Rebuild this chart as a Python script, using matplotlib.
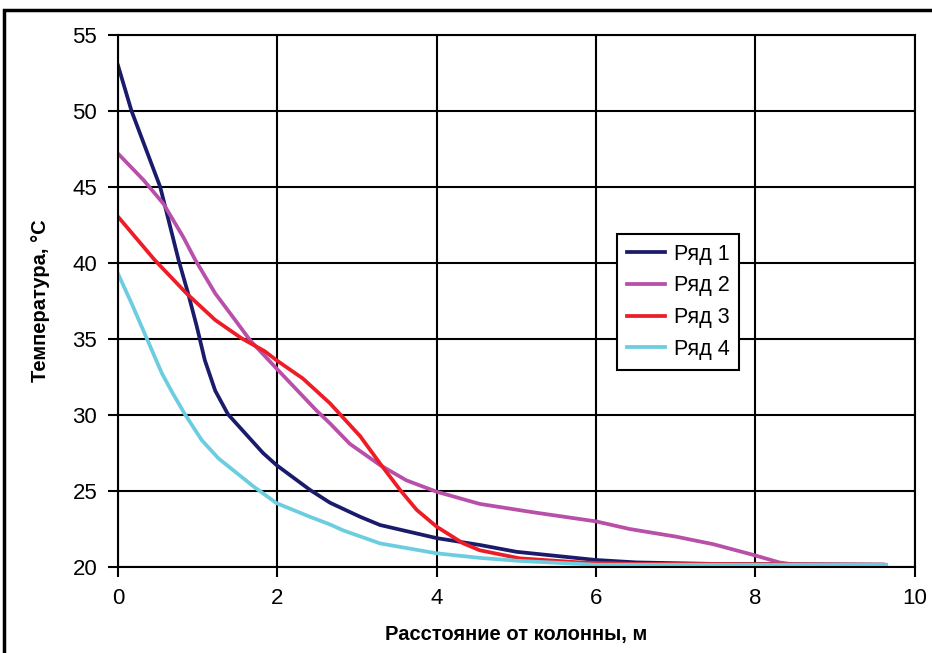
import matplotlib
matplotlib.use("Agg")
import matplotlib.pyplot as plt
from matplotlib.patches import Rectangle

plt.rcParams["font.family"] = ["Liberation Sans", "DejaVu Sans"]

# Ряд 1
x1 = [0, 0.17, 0.53, 0.76, 0.88, 0.99, 1.09, 1.22, 1.38, 1.63, 1.82, 1.99, 2.41, 2.66, 3.04, 3.29,
      4.0, 4.54, 5.0, 6.0, 6.51, 7.5, 9.6]
y1 = [53.0, 50.0, 45.0, 40.2, 38.0, 35.8, 33.6, 31.6, 30.05, 28.6, 27.5, 26.7, 25.07, 24.23, 23.3, 22.76,
      21.9, 21.45, 21.0, 20.46, 20.3, 20.2, 20.15]

# Ряд 2
x2 = [0, 0.32, 0.57, 0.82, 0.97, 1.22, 1.47, 1.66, 2.0, 2.49, 2.66, 2.91, 3.29, 3.62, 4.0, 4.54,
      5.21, 6.0, 6.42, 7.0, 7.47, 7.97, 8.3, 8.5, 9.6]
y2 = [47.2, 45.46, 43.9, 41.7, 40.2, 38.0, 36.25, 34.9, 33.0, 30.3, 29.45, 28.1, 26.7, 25.7, 24.95, 24.15,
      23.6, 23.0, 22.5, 22.0, 21.5, 20.8, 20.3, 20.15, 20.15]

# Ряд 3
x3 = [0, 0.46, 0.86, 1.22, 1.55, 1.84, 1.99, 2.32, 2.66, 3.04, 3.29, 3.54, 3.75, 4.0, 4.33, 4.54,
      5.04, 5.8, 6.5, 7.65, 9.6]
y3 = [43.05, 40.2, 38.0, 36.25, 35.05, 34.2, 33.6, 32.4, 30.77, 28.6, 26.8, 25.07, 23.75, 22.65, 21.56, 21.1,
      20.57, 20.3, 20.2, 20.2, 20.15]

# Ряд 4
x4 = [0, 0.17, 0.36, 0.55, 0.69, 0.84, 1.05, 1.26, 1.70, 1.99, 2.41, 2.66, 2.83, 3.29, 4.0, 4.54,
      5.04, 6.0, 9.64]
y4 = [39.3, 37.35, 35.05, 32.75, 31.4, 30.05, 28.35, 27.15, 25.3, 24.2, 23.3, 22.8, 22.4, 21.55, 20.9, 20.6,
      20.4, 20.15, 20.15]

labels = ["Ряд 1", "Ряд 2", "Ряд 3", "Ряд 4"]
colors = ["#1b1b6b", "#b84fa8", "#ee1c25", "#6ccde0"]

fig = plt.figure(figsize=(9.32, 6.53), dpi=100)
ax = fig.add_axes([0.1266, 0.1317, 0.855, 0.8147])

for xs, ys, lab, col in zip([x1, x2, x3, x4], [y1, y2, y3, y4], labels, colors):
    ax.plot(xs, ys, color=col, lw=2.7, label=lab, solid_joinstyle="round")

ax.set_xlim(0, 10)
ax.set_ylim(20, 55)
ax.set_xticks(range(0, 11, 2))
ax.set_yticks(range(20, 56, 5))
ax.grid(True, color="black", lw=1.5)
ax.set_axisbelow(True)
for s in ax.spines.values():
    s.set_linewidth(1.5)
ax.tick_params(direction="out", length=7, width=1.5, labelsize=16, pad=8)

ax.set_xlabel("Расстояние от колонны, м", fontsize=14.5, fontweight="bold", labelpad=12)
ax.set_ylabel("Температура, °С", fontsize=14.5, fontweight="bold", labelpad=16)

leg = ax.legend(loc="upper left", bbox_to_anchor=(0.626, 0.626), borderaxespad=0,
                fontsize=15.5, frameon=True, fancybox=False, framealpha=1,
                edgecolor="black", handlelength=1.8, handletextpad=0.4,
                borderpad=0.45, labelspacing=0.5)
leg.get_frame().set_linewidth(1.5)

fig.patches.append(Rectangle((4 / 932, -0.05), 1.2, 1.05 - 10 / 653,
                             transform=fig.transFigure, fill=False,
                             edgecolor="black", lw=2.5, clip_on=False))

fig.savefig("out.png", dpi=100)
